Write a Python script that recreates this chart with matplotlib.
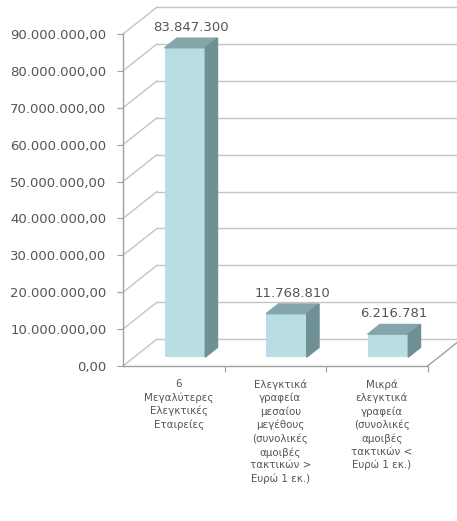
import matplotlib
matplotlib.use("Agg")
import matplotlib.pyplot as plt
from matplotlib.patches import Polygon

categories = [
    "6\nΜεγαλύτερες\nΕλεγκτικές\nΕταιρείες",
    "Ελεγκτικά\nγραφεία\nμεσαίου\nμεγέθους\n(συνολικές\nαμοιβές\nτακτικών >\nΕυρώ 1 εκ.)",
    "Μικρά\nελεγκτικά\nγραφεία\n(συνολικές\nαμοιβές\nτακτικών <\nΕυρώ 1 εκ.)",
]
values = [83847300, 11768810, 6216781]
value_labels = ["83.847.300", "11.768.810", "6.216.781"]
yticks = list(range(0, 90000001, 10000000))
ytick_labels = ["0,00"] + [f"{v // 1000000}.000.000,00" for v in yticks[1:]]

# pseudo-3d depth of the whole box (data units)
DX = 0.335
DY = 7.3e6
f0 = 0.33      # bar front position inside the depth
fd = 0.36      # bar depth
width = 0.40

grid_c = "#c4c4c4"
txt_c = "#555555"
front_c = "#b8dde2"
top_c = "#84a6aa"
side_c = "#6f9195"

fig = plt.figure(figsize=(4.57, 5.21), dpi=100)
ax = fig.add_axes([123 / 457, 1 - 366 / 521, 304.5 / 457, 332 / 521])
ax.set_xlim(-0.5, 2.5)
ax.set_ylim(0, 90000000)
for s in ax.spines.values():
    s.set_visible(False)

# walls and gridlines
for v in yticks:
    ax.plot([-0.5, -0.5 + DX], [v, v + DY], color=grid_c, lw=1, clip_on=False, zorder=1)
    ax.plot([-0.5 + DX, 3.0], [v + DY, v + DY], color=grid_c, lw=1, clip_on=False, zorder=1)
ax.plot([-0.5, -0.5], [0, 90000000], color="#a0a0a0", lw=1, clip_on=False, zorder=2)
ax.plot([-0.5, 2.5], [0, 0], color="#a0a0a0", lw=1, clip_on=False, zorder=2)
ax.plot([2.5, 2.5 + DX], [0, DY], color="#a0a0a0", lw=1, clip_on=False, zorder=2)

ax.set_yticks(yticks)
ax.set_yticklabels(ytick_labels)
ax.tick_params(axis="y", length=4, color="#a0a0a0", labelsize=9.5, labelcolor=txt_c, pad=8)
ax.set_xticks([0.5, 1.5, 2.5], minor=False)
ax.set_xticklabels([])
ax.tick_params(axis="x", length=4, color="#a0a0a0", direction="out")

xs = list(range(len(values)))
x0 = [x + f0 * DX for x in xs]
bars = ax.bar(x0, values, width=width, bottom=f0 * DY, color=front_c, zorder=3)
for b, v, lab in zip(bars, values, value_labels):
    l, r = b.get_x(), b.get_x() + b.get_width()
    bot, top = b.get_y(), b.get_y() + b.get_height()
    dx, dy = fd * DX, fd * DY
    ax.add_patch(Polygon([(l, top), (r, top), (r + dx, top + dy), (l + dx, top + dy)],
                         color=top_c, zorder=3, clip_on=False))
    ax.add_patch(Polygon([(r, bot), (r + dx, bot + dy), (r + dx, top + dy), (r, top)],
                         color=side_c, zorder=3, clip_on=False))
    ax.annotate(lab, ((l + r) / 2 + dx / 2, top + dy), xytext=(0, 3),
                textcoords="offset points", ha="center", va="bottom",
                fontsize=9.5, color=txt_c, zorder=4)

for x, c in zip(xs, categories):
    ax.text(x + 0.05, -3.6e6, c, ha="center", va="top", fontsize=7.4,
            color=txt_c, linespacing=1.36)

fig.savefig("out.png", dpi=100)
